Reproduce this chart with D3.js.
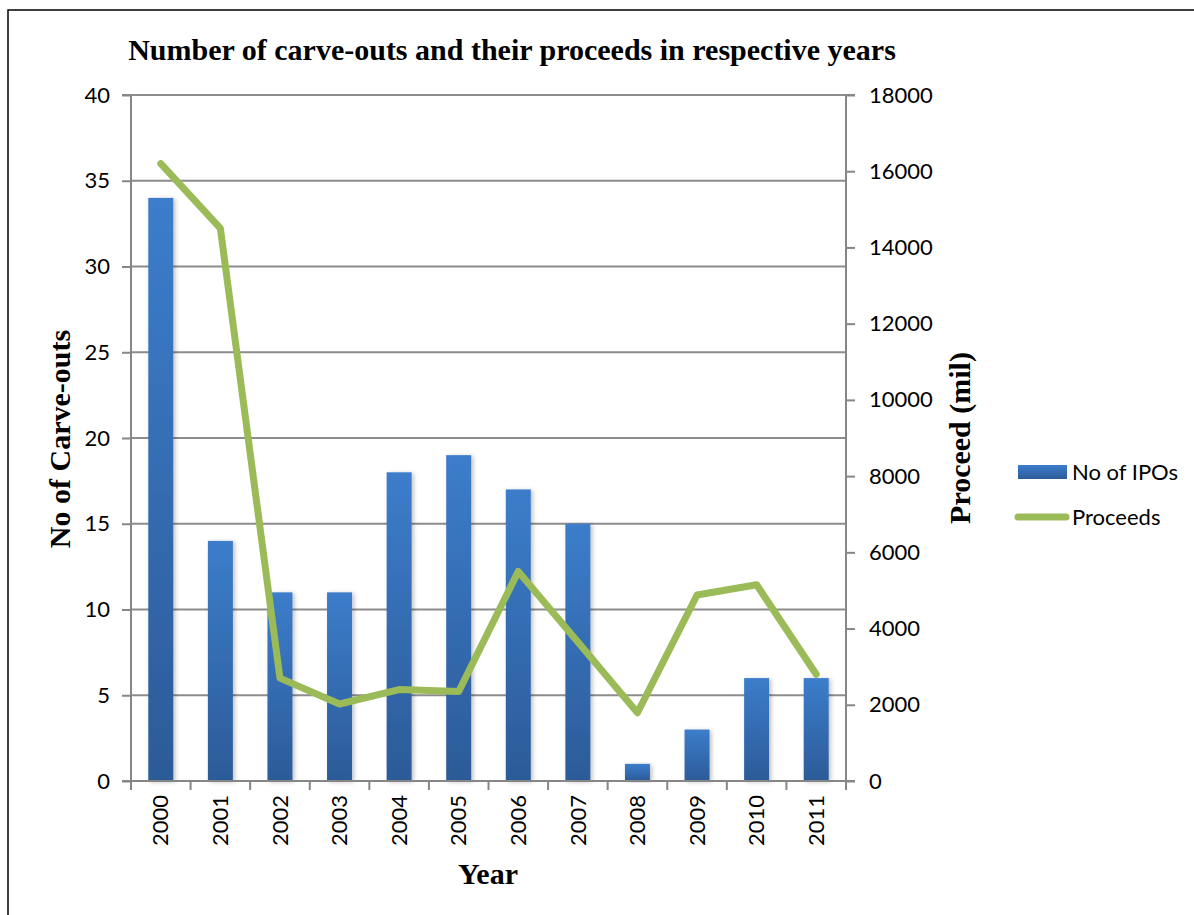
<!DOCTYPE html>
<html>
<head>
<meta charset="utf-8">
<script src="https://cdn.jsdelivr.net/npm/d3@7"></script>
<style>
body { margin: 0; background: #fff; }
svg text { fill: #000; }
</style>
</head>
<body>
<script>
// data
var years = ['2000', '2001', '2002', '2003', '2004', '2005', '2006', '2007', '2008', '2009', '2010', '2011'];
var ipos = [34, 14, 11, 11, 18, 19, 17, 15, 1, 3, 6, 6];
var proceeds = [16200, 14500, 2700, 2020, 2400, 2350, 5500, 3650, 1790, 4880, 5150, 2800];
var leftTicks = [0, 5, 10, 15, 20, 25, 30, 35, 40];
var rightTicks = [0, 2000, 4000, 6000, 8000, 10000, 12000, 14000, 16000, 18000];

var W = 1194, H = 915;
var pLeft = 131, pRight = 846, pTop = 95, pBottom = 781;
var sans = 'Lato, "Open Sans", sans-serif';
var serif = '"Liberation Serif", "Times New Roman", serif';

var svg = d3.select('body').append('svg')
	.attr('width', W)
	.attr('height', H);

// outer frame
svg.append('rect')
	.attr('x', 8).attr('y', 10)
	.attr('width', 1300).attr('height', 1000)
	.attr('fill', 'none')
	.attr('stroke', '#000')
	.attr('stroke-width', 1.5);

var defs = svg.append('defs');
var grad = defs.append('linearGradient')
	.attr('id', 'barGrad')
	.attr('x1', 0).attr('y1', 0).attr('x2', 0).attr('y2', 1);
grad.append('stop').attr('offset', '0%').attr('stop-color', '#3c7dcb');
grad.append('stop').attr('offset', '100%').attr('stop-color', '#2c5b98');

var filt = defs.append('filter').attr('id', 'shadow')
	.attr('x', '-30%').attr('y', '-10%').attr('width', '160%').attr('height', '120%');
filt.append('feDropShadow')
	.attr('dx', 2).attr('dy', 1).attr('stdDeviation', 2)
	.attr('flood-color', '#000').attr('flood-opacity', 0.25);

var x = d3.scaleBand().domain(years).range([pLeft, pRight]);
var yL = d3.scaleLinear().domain([0, 40]).range([pBottom, pTop]);
var yR = d3.scaleLinear().domain([0, 18000]).range([pBottom, pTop]);

// grid lines
svg.append('g')
	.selectAll('line')
	.data(leftTicks.slice(1))
	.enter().append('line')
	.attr('x1', pLeft).attr('x2', pRight)
	.attr('y1', function(d) { return yL(d); })
	.attr('y2', function(d) { return yL(d); })
	.attr('stroke', '#8c8c8c')
	.attr('stroke-width', 2);

// bars
var bw = 25;
svg.append('g')
	.selectAll('rect')
	.data(ipos)
	.enter().append('rect')
	.attr('x', function(d, i) { return x(years[i]) + x.bandwidth() / 2 - bw / 2; })
	.attr('y', function(d) { return yL(d); })
	.attr('width', bw)
	.attr('height', function(d) { return pBottom - yL(d); })
	.attr('fill', 'url(#barGrad)')
	.attr('filter', 'url(#shadow)');

// left axis
var axL = svg.append('g')
	.attr('transform', 'translate(' + pLeft + ',0)')
	.call(d3.axisLeft(yL).tickValues(leftTicks).tickSize(9).tickPadding(12));
// right axis
var axR = svg.append('g')
	.attr('transform', 'translate(' + pRight + ',0)')
	.call(d3.axisRight(yR).tickValues(rightTicks).tickSize(9).tickPadding(14).tickFormat(d3.format('d')));
// bottom axis, ticks at band edges
var axB = svg.append('g')
	.attr('transform', 'translate(0,' + pBottom + ')')
	.call(d3.axisBottom(x).tickSize(0).tickPadding(0));
axB.select('.domain').remove();
axB.append('line')
	.attr('x1', pLeft - 9).attr('x2', pRight + 9)
	.attr('stroke', '#868686').attr('stroke-width', 2);
axB.selectAll('.edge')
	.data(years.concat(['end']))
	.enter().append('line')
	.attr('class', 'edge')
	.attr('x1', function(d, i) { return pLeft + i * x.bandwidth(); })
	.attr('x2', function(d, i) { return pLeft + i * x.bandwidth(); })
	.attr('y1', 0).attr('y2', 9)
	.attr('stroke', '#868686').attr('stroke-width', 2);
axB.selectAll('.tick text')
	.attr('transform', 'rotate(-90)')
	.attr('x', -14).attr('y', 0)
	.attr('dy', '0.35em')
	.style('text-anchor', 'end');

[axL, axR, axB].forEach(function(a) {
	a.selectAll('.domain').attr('stroke', '#868686').attr('stroke-width', 2);
	a.selectAll('.tick line').attr('stroke', '#868686').attr('stroke-width', 2);
	a.selectAll('text')
		.style('font-family', sans)
		.style('font-size', '22px')
		.attr('fill', '#000');
});
axL.select('.domain').attr('d', 'M-9,' + pTop + 'H0V' + pBottom + 'H-9');
axR.select('.domain').attr('d', 'M9,' + pTop + 'H0V' + pBottom + 'H9');

// proceeds line
var line = d3.line()
	.x(function(d, i) { return x(years[i]) + x.bandwidth() / 2; })
	.y(function(d) { return yR(d); });
svg.append('path')
	.datum(proceeds)
	.attr('d', line)
	.attr('fill', 'none')
	.attr('stroke', '#9bbb59')
	.attr('stroke-width', 7)
	.attr('stroke-linecap', 'round')
	.attr('stroke-linejoin', 'round');

// titles
svg.append('text')
	.attr('x', 512).attr('y', 60)
	.attr('text-anchor', 'middle')
	.style('font-family', serif).style('font-weight', 'bold').style('font-size', '30px')
	.text('Number of carve-outs and their proceeds in respective years');
svg.append('text')
	.attr('transform', 'translate(70,439) rotate(-90)')
	.attr('text-anchor', 'middle')
	.style('font-family', serif).style('font-weight', 'bold').style('font-size', '30px')
	.text('No of Carve-outs');
svg.append('text')
	.attr('transform', 'translate(970,438) rotate(-90)')
	.attr('text-anchor', 'middle')
	.style('font-family', serif).style('font-weight', 'bold').style('font-size', '30px')
	.text('Proceed (mil)');
svg.append('text')
	.attr('x', 488).attr('y', 884)
	.attr('text-anchor', 'middle')
	.style('font-family', serif).style('font-weight', 'bold').style('font-size', '30px')
	.text('Year');

// legend
var lg = svg.append('g');
lg.append('rect')
	.attr('x', 1018).attr('y', 465).attr('width', 49).attr('height', 14)
	.attr('fill', 'url(#barGrad)');
lg.append('text')
	.attr('x', 1072).attr('y', 472).attr('dy', '0.35em')
	.style('font-family', sans).style('font-size', '22px')
	.text('No of IPOs');
lg.append('line')
	.attr('x1', 1018).attr('x2', 1066).attr('y1', 517).attr('y2', 517)
	.attr('stroke', '#9bbb59').attr('stroke-width', 7).attr('stroke-linecap', 'round');
lg.append('text')
	.attr('x', 1072).attr('y', 517).attr('dy', '0.35em')
	.style('font-family', sans).style('font-size', '22px')
	.text('Proceeds');
</script>
</body>
</html>
